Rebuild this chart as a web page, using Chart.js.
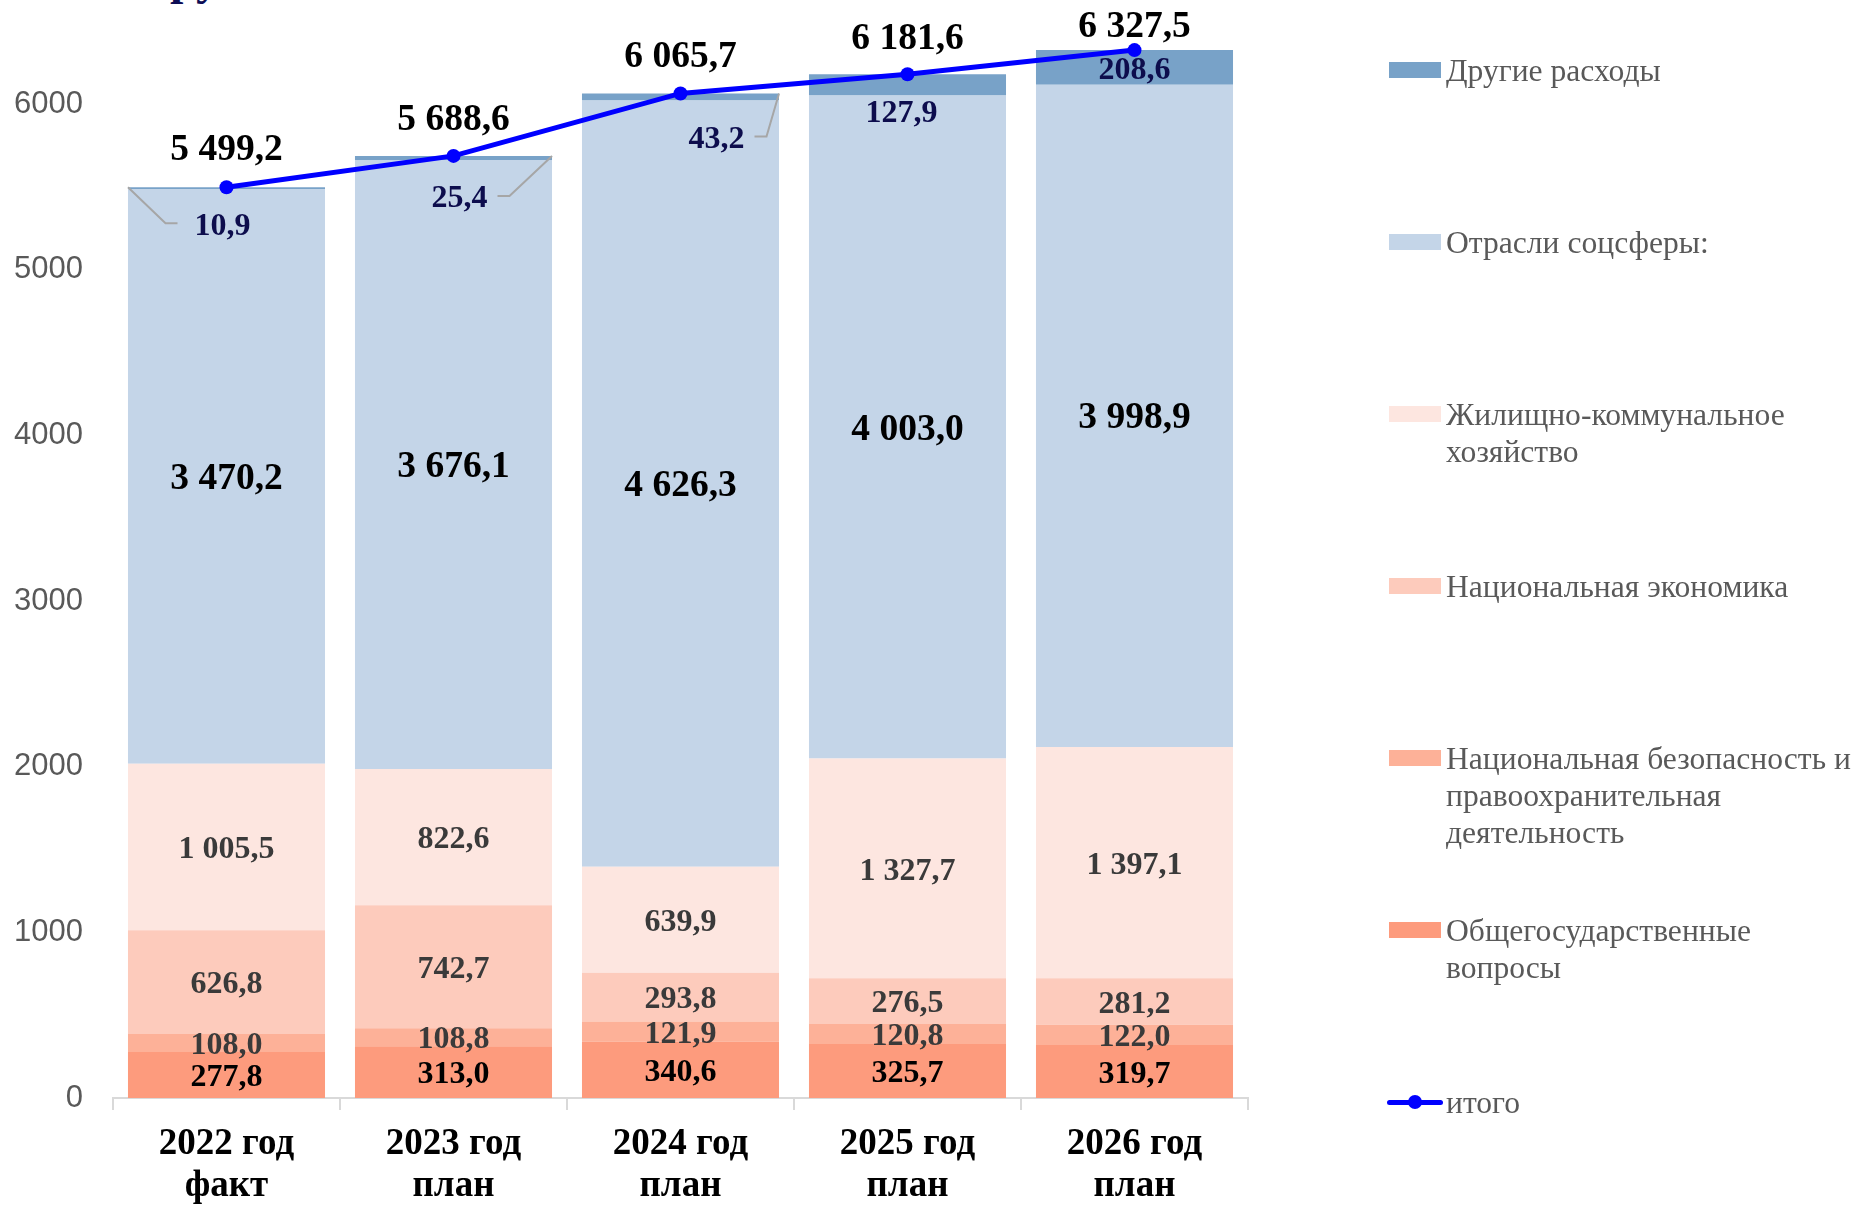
<!DOCTYPE html>
<html>
<head>
<meta charset="utf-8">
<script src="https://cdn.jsdelivr.net/npm/chart.js@4/dist/chart.umd.min.js"></script>
<style>
  body { margin: 0; background: #fff; }
  #wrap { position: relative; width: 1860px; height: 1205px; overflow: hidden; }
  #chart-box { position: absolute; left: 0; top: 0; width: 1860px; height: 1205px; }
  #title { position: absolute; left: 170px; top: -46px; font: bold 48px "Liberation Serif"; line-height: 48px; color: #0d0d55; white-space: nowrap; }
  .leg { position: absolute; left: 1387px; }
  .leg .sw { position: absolute; left: 2px; width: 52px; height: 16px; top: -8px; }
  .leg .txt { position: absolute; left: 59px; top: -18px; font: 31.6px "Liberation Serif"; line-height: 37px; color: #595959; white-space: nowrap; }
  .leg .ln { position: absolute; left: 0; width: 56px; height: 5px; top: -2px; border-radius: 3px; }
  .leg .dot { position: absolute; left: 21px; width: 14px; height: 14px; top: -7px; border-radius: 50%; }
</style>
</head>
<body>
<div id="wrap">
  <div id="title">рублей</div>
  <div id="chart-box"><canvas id="chart"></canvas></div>
</div>
<script>
const years = [['2022 год', 'факт'], ['2023 год', 'план'], ['2024 год', 'план'], ['2025 год', 'план'], ['2026 год', 'план']];

const obshchegos = [277.8, 313.0, 340.6, 325.7, 319.7];
const natsBezop  = [108.0, 108.8, 121.9, 120.8, 122.0];
const natsEkon   = [626.8, 742.7, 293.8, 276.5, 281.2];
const zhkh       = [1005.5, 822.6, 639.9, 1327.7, 1397.1];
const sotssfera  = [3470.2, 3676.1, 4626.3, 4003.0, 3998.9];
const drugie     = [10.9, 25.4, 43.2, 127.9, 208.6];
const itogo      = [5499.2, 5688.6, 6065.7, 6181.6, 6327.5];

const yTicks = [0, 1000, 2000, 3000, 4000, 5000, 6000];

// small "other" labels sit under the bar top, some with a leader line
const otherLabelShift = [[-4, 39, 'left'], [6, 43, 'right'], [36, 46, 'right'], [-6, 39, null], null];
const totalLabelShift = [-37, -36, -36, -35, -23];
const textNudge = 3;

const fmt = v => {
    const [a, b] = v.toFixed(1).split('.');
    return a.replace(/\B(?=(\d{3})+(?!\d))/g, ' ') + ',' + b;
};

const barSet = (label, legendLines, data, color, labelColor, labelSize) => ({
    type: 'bar', label, legendLines, data,
    backgroundColor: color,
    labelColor, labelSize,
    stack: 'budget', order: 1,
    categoryPercentage: 1, barPercentage: 0.868
});

const datasets = [
    barSet('Общегосударственные вопросы', ['Общегосударственные', 'вопросы'], obshchegos, '#fd9b7d', '#000000', 32),
    barSet('Национальная безопасность и правоохранительная деятельность', ['Национальная безопасность и', 'правоохранительная', 'деятельность'], natsBezop, '#fdb198', '#3a3a3a', 32),
    barSet('Национальная экономика', ['Национальная экономика'], natsEkon, '#fdcbbc', '#3a3a3a', 32),
    barSet('Жилищно-коммунальное хозяйство', ['Жилищно-коммунальное', 'хозяйство'], zhkh, '#fde6e0', '#3a3a3a', 32),
    barSet('Отрасли соцсферы:', ['Отрасли соцсферы:'], sotssfera, '#c4d5e8', '#000000', 37.5),
    barSet('Другие расходы', ['Другие расходы'], drugie, '#78a2c8', '#0d0d4d', 32),
    {
        type: 'line', label: 'итого', legendLines: ['итого'], data: itogo,
        borderColor: '#0000ff', backgroundColor: '#0000ff',
        borderWidth: 5, pointRadius: 7, pointHoverRadius: 7, pointBorderWidth: 0,
        tension: 0, stack: 'total', order: 0,
        labelColor: '#000000', labelSize: 37.5
    }
];

const valueLabels = {
    id: 'valueLabels',
    afterDatasetsDraw(chart) {
        const ctx = chart.ctx;
        ctx.save();
        ctx.textAlign = 'center';
        ctx.textBaseline = 'middle';
        chart.data.datasets.forEach((ds, di) => {
            const meta = chart.getDatasetMeta(di);
            meta.data.forEach((el, i) => {
                const p = el.getProps(['x', 'y', 'base', 'width'], true);
                const text = fmt(ds.data[i]);
                ctx.font = `bold ${ds.labelSize}px "Liberation Serif"`;
                ctx.fillStyle = ds.labelColor;
                let lx = p.x, ly;
                if (ds.type === 'line') {
                    ly = p.y + totalLabelShift[i];
                } else if (ds.data === drugie && otherLabelShift[i]) {
                    const [dx, dy, side] = otherLabelShift[i];
                    lx = p.x + dx;
                    ly = p.y + dy;
                    if (side) {
                        const w = ctx.measureText(text).width;
                        ctx.strokeStyle = '#a6a6a6';
                        ctx.lineWidth = 2;
                        ctx.beginPath();
                        if (side === 'left') {
                            ctx.moveTo(p.x - p.width / 2, p.y);
                            ctx.lineTo(lx - w / 2 - 29, ly - 3);
                            ctx.lineTo(lx - w / 2 - 17, ly - 3);
                        } else {
                            ctx.moveTo(p.x + p.width / 2, p.y);
                            ctx.lineTo(lx + w / 2 + 22, ly - 3);
                            ctx.lineTo(lx + w / 2 + 10, ly - 3);
                        }
                        ctx.stroke();
                    }
                } else {
                    ly = (p.y + p.base) / 2 + textNudge;
                }
                ctx.fillText(text, lx, ly);
            });
        });
        ctx.restore();
    }
};

const chart = new Chart(document.getElementById('chart').getContext('2d'), {
    type: 'bar',
    data: { labels: years, datasets },
    options: {
        responsive: true,
        maintainAspectRatio: false,
        animation: false,
        layout: { autoPadding: false, padding: { left: 0, right: 612, top: 0, bottom: 0 } },
        plugins: { legend: { display: false }, tooltip: { enabled: false } },
        scales: {
            x: {
                stacked: true,
                grid: { display: true, drawOnChartArea: false, drawTicks: true, tickLength: 12, color: '#d9d9d9', lineWidth: 2, offset: true },
                border: { display: true, color: '#d9d9d9', width: 2 },
                ticks: { font: { family: '"Liberation Serif"', size: 37, weight: 'bold', lineHeight: 1.12 }, color: '#000', padding: 14, maxRotation: 0, autoSkip: false },
                afterFit(s) { s.height = 107; s.paddingLeft = 0; s.paddingRight = 0; }
            },
            y: {
                stacked: true, min: 0, max: 6630,
                grid: { display: false, drawTicks: false },
                border: { display: false },
                ticks: { font: { family: '"Liberation Sans"', size: 31 }, color: '#595959', padding: 30, callback: v => String(v) },
                afterBuildTicks(s) { s.ticks = yTicks.map(v => ({ value: v })); },
                // keep the plot area where the reference has it: no extra padding from tick labels
                afterFit(s) { s.width = 113; s.paddingTop = 0; s.paddingBottom = 0; }
            }
        }
    },
    plugins: [valueLabels]
});

// legend on the right, top to bottom: the stack from its top, then the total line
const wrap = document.getElementById('wrap');
const legendOrder = [5, 4, 3, 2, 1, 0, 6];
legendOrder.forEach((di, k) => {
    const ds = chart.data.datasets[di];
    const item = document.createElement('div');
    item.className = 'leg';
    item.style.top = (70 + k * 172) + 'px';
    if (ds.type === 'line') {
        item.innerHTML = `<div class="ln" style="background:${ds.borderColor}"></div><div class="dot" style="background:${ds.borderColor}"></div>`;
    } else {
        item.innerHTML = `<div class="sw" style="background:${ds.backgroundColor}"></div>`;
    }
    const txt = document.createElement('div');
    txt.className = 'txt';
    txt.innerHTML = ds.legendLines.join('<br>');
    item.appendChild(txt);
    wrap.appendChild(item);
});
</script>
</body>
</html>
